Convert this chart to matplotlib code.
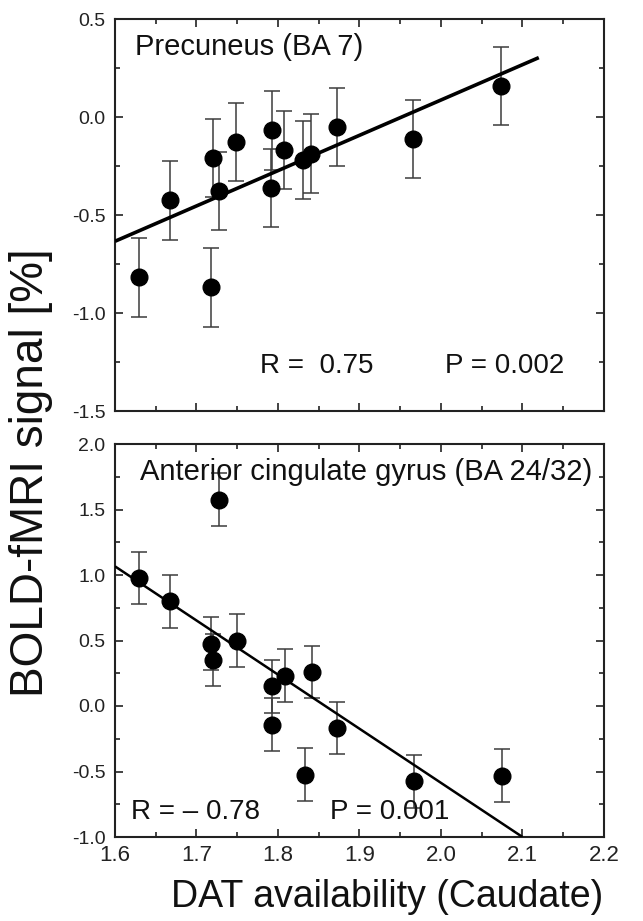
import matplotlib
matplotlib.use("Agg")
import matplotlib.pyplot as plt
from matplotlib.ticker import MultipleLocator, FormatStrFormatter

plt.rcParams['font.family'] = ['Liberation Sans', 'DejaVu Sans']
plt.rcParams['axes.unicode_minus'] = False

# ---- data ----
x_top = [1.629, 1.667, 1.720, 1.727, 1.718, 1.749, 1.793, 1.792, 1.807, 1.831, 1.841, 1.872, 1.966, 2.074]
y_top = [-0.818, -0.426, -0.210, -0.378, -0.869, -0.128, -0.068, -0.361, -0.167, -0.218, -0.187, -0.051, -0.111, 0.157]
err_top = [0.20, 0.20, 0.20, 0.20, 0.20, 0.20, 0.20, 0.20, 0.20, 0.20, 0.20, 0.20, 0.20, 0.20]
fit_top_x = [1.60, 2.12]
fit_top_y = [-0.634, 0.303]

x_bot = [1.630, 1.667, 1.718, 1.720, 1.728, 1.750, 1.793, 1.793, 1.809, 1.842, 1.872, 1.833, 1.967, 2.075]
y_bot = [0.977, 0.799, 0.476, 0.349, 1.575, 0.499, 0.150, -0.142, 0.232, 0.260, -0.168, -0.524, -0.575, -0.532]
err_bot = [0.20, 0.20, 0.20, 0.20, 0.20, 0.20, 0.20, 0.20, 0.20, 0.20, 0.20, 0.20, 0.20, 0.20]
fit_bot_x = [1.60, 2.10]
fit_bot_y = [1.066, -1.0]

title_top = "Precuneus (BA 7)"
title_bot = "Anterior cingulate gyrus (BA 24/32)"
r_top, p_top = "R =  0.75", "P = 0.002"
r_bot, p_bot = "R = \u2013 0.78", "P = 0.001"
xlabel = "DAT availability (Caudate)"
ylabel = "BOLD-fMRI signal [%]"
xlim = (1.6, 2.2)
ylim_top = (-1.5, 0.5)
ylim_bot = (-1.0, 2.0)

fig = plt.figure(figsize=(6.43, 9.21), dpi=100)
L, W = 115 / 643, 489 / 643
ax1 = fig.add_axes([L, 1 - 411 / 921, W, 392 / 921])
ax2 = fig.add_axes([L, 1 - 837 / 921, W, 393 / 921])


def style(ax, ylim, show_x):
    ax.set_xlim(*xlim)
    ax.set_ylim(*ylim)
    ax.xaxis.set_major_locator(MultipleLocator(0.1))
    ax.xaxis.set_minor_locator(MultipleLocator(0.05))
    ax.yaxis.set_major_locator(MultipleLocator(0.5))
    ax.yaxis.set_minor_locator(MultipleLocator(0.25))
    ax.yaxis.set_major_formatter(FormatStrFormatter('%.1f'))
    ax.xaxis.set_major_formatter(FormatStrFormatter('%.1f'))
    ax.tick_params(which='both', direction='in', top=True, right=True, width=1.2, color='#222222')
    ax.tick_params(which='major', length=6)
    ax.tick_params(which='minor', length=3.5)
    ax.tick_params(axis='y', which='major', labelsize=14, pad=7, labelcolor='#222222')
    ax.tick_params(axis='x', which='major', labelsize=16, pad=6, labelcolor='#222222')
    if not show_x:
        ax.tick_params(axis='x', labelbottom=False)
    for s in ax.spines.values():
        s.set_linewidth(1.5)
        s.set_color('#222222')


def panel(ax, x, y, e, fx, fy, lw):
    ax.errorbar(x, y, yerr=e, fmt='o', ms=12, mfc='black', mec='black',
                ecolor='#3c3c3c', elinewidth=1.1, capsize=6, capthick=1.1, zorder=3)
    ax.plot(fx, fy, color='black', lw=lw, zorder=4, solid_capstyle='butt')


panel(ax1, x_top, y_top, err_top, fit_top_x, fit_top_y, 2.6)
panel(ax2, x_bot, y_bot, err_bot, fit_bot_x, fit_bot_y, 1.8)
style(ax1, ylim_top, False)
style(ax2, ylim_bot, True)

ax1.text(0.041, 0.908, title_top, transform=ax1.transAxes, fontsize=21, va='baseline', color='#111111')
ax1.text(0.297, 0.097, r_top, transform=ax1.transAxes, fontsize=20, va='baseline', color='#111111')
ax1.text(0.675, 0.097, p_top, transform=ax1.transAxes, fontsize=20, va='baseline', color='#111111')

ax2.text(0.051, 0.908, title_bot, transform=ax2.transAxes, fontsize=21, va='baseline', color='#111111')
ax2.text(0.033, 0.046, r_bot, transform=ax2.transAxes, fontsize=20, va='baseline', color='#111111')
ax2.text(0.44, 0.046, p_bot, transform=ax2.transAxes, fontsize=20, va='baseline', color='#111111')

fig.text((115 + 489 / 2 + 28) / 643, 1 - 897 / 921, xlabel, fontsize=27, ha='center', va='center', color='#111111')
fig.text(31 / 643, 1 - 473 / 921, ylabel, fontsize=33, rotation=90, ha='center', va='center', color='#111111')

fig.savefig("out.png", dpi=100)
